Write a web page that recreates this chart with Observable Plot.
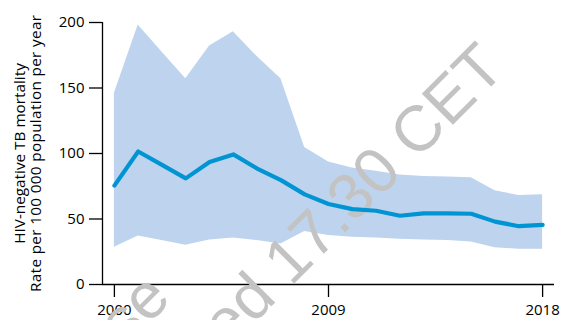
<!DOCTYPE html>
<html>
<head>
<meta charset="utf-8">
<script src="https://cdn.jsdelivr.net/npm/d3@7"></script>
<script src="https://cdn.jsdelivr.net/npm/@observablehq/plot@0.6"></script>
<style>
  body { margin: 0; background: #fff; }
  #chart svg { display: block; }
</style>
</head>
<body>
<div id="chart"></div>
<script>
// ---- data ----
const years = [2000, 2001, 2002, 2003, 2004, 2005, 2006, 2007, 2008, 2009,
               2010, 2011, 2012, 2013, 2014, 2015, 2016, 2017, 2018];
const mortality = [75.5, 101.5, 91.3, 81, 93.5, 99.3, 88.5, 79.7, 68.8, 61.5,
                   57.5, 56.3, 52.5, 54.3, 54.3, 54, 48, 44.5, 45.5];
const upperBound = [146, 198, 177.5, 157, 182, 193, 174, 157, 104.5, 93.5,
                    89, 86.5, 83.5, 82.5, 82, 81.5, 71.5, 68, 68.5];
const lowerBound = [28.5, 37, 33.5, 30, 34, 35.5, 33.5, 31, 40.5, 37.5,
                    36, 35.5, 34.5, 34, 33.5, 32.5, 28, 27, 27];
const xTicks = [2000, 2009, 2018];
const yTicks = [0, 50, 100, 150, 200];
const xDomain = [1999.5, 2018.5];
const yDomain = [0, 200];
const yLabelLines = ["HIV-negative TB mortality", "Rate per 100 000 population per year"];
const watermarkLines = ["Press release", "Embargoed", "17.30 CET"];

const data = years.map((year, i) => ({year, mid: mortality[i], lo: lowerBound[i], hi: upperBound[i]}));

// y-axis title (two rotated lines)
function yLabelMark(index, scales, values, dims) {
  const top = dims ? dims.marginTop : 22;
  const bottom = dims ? dims.height - dims.marginBottom : 284;
  const cy = (top + bottom) / 2 + 0.5;
  const g = d3.create("svg:g")
    .attr("font-family", "'Open Sans', sans-serif")
    .attr("font-size", 15.3)
    .attr("fill", "#000");
  const xs = [25.3, 41.3];
  yLabelLines.forEach((t, i) => {
    g.append("text")
      .attr("transform", `translate(${xs[i]},${cy}) rotate(-90)`)
      .attr("text-anchor", "middle")
      .attr("textLength", i === 1 ? 277 : null)
      .text(t);
  });
  return g.node();
}

// diagonal watermark
function watermarkMark() {
  const g = d3.create("svg:g")
    .attr("font-family", "'Liberation Sans', Arial, sans-serif")
    .attr("font-size", 64)
    .attr("fill", "#c3c3c3");
  const pos = [
    {x: 173, y: 300, anchor: "end"},
    {x: 278.1, y: 299.5, anchor: "end"},
    {x: 290.7, y: 286.9, anchor: "start"}
  ];
  watermarkLines.forEach((t, i) => {
    g.append("text")
      .attr("transform", `translate(${pos[i].x},${pos[i].y}) rotate(-45)`)
      .attr("text-anchor", pos[i].anchor)
      .text(t);
  });
  return g.node();
}

const chart = Plot.plot({
  width: 562,
  height: 320,
  marginLeft: 102,
  marginRight: 8,
  marginTop: 22,
  marginBottom: 36,
  style: {fontFamily: "'Open Sans', sans-serif", fontSize: "15px", color: "#000", background: "#fff"},
  x: {domain: xDomain},
  y: {domain: yDomain},
  marks: [
    Plot.areaY(data, {x: "year", y1: "lo", y2: "hi", fill: "#bed4ee", curve: "linear"}),
    Plot.axisY({ticks: yTicks, tickSize: 13, tickPadding: 5, label: null, strokeWidth: 1.3, fontSize: 15}),
    Plot.axisX({ticks: xTicks, tickSize: 13, tickPadding: 7, label: null, strokeWidth: 1.3, fontSize: 15, tickFormat: d => String(d)}),
    Plot.ruleX([xDomain[0]], {strokeWidth: 1.3}),
    Plot.ruleY([yDomain[0]], {strokeWidth: 1.3}),
    yLabelMark,
    watermarkMark,
    Plot.lineY(data, {x: "year", y: "mid", stroke: "#0094d3", strokeWidth: 4.2, curve: "linear"})
  ]
});
document.getElementById("chart").appendChild(chart);
</script>
</body>
</html>
